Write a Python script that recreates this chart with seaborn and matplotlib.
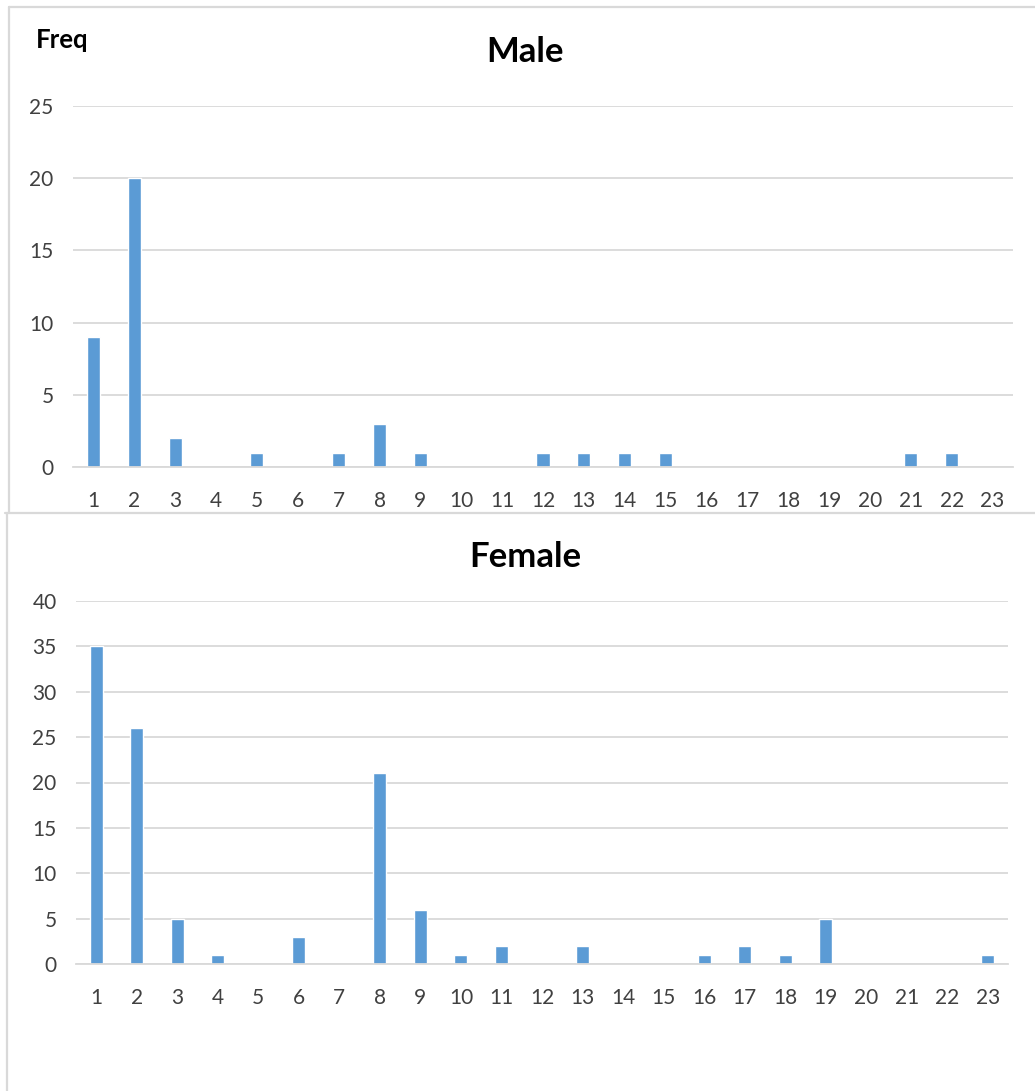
import matplotlib
matplotlib.use("Agg")
import matplotlib.pyplot as plt
from matplotlib.lines import Line2D
import seaborn as sns
import pandas as pd

categories = [str(i) for i in range(1, 24)]
male_freq = [9, 20, 2, 0, 1, 0, 1, 3, 1, 0, 0, 1, 1, 1, 1, 0, 0, 0, 0, 0, 1, 1, 0]
female_freq = [35, 26, 5, 1, 0, 3, 0, 21, 6, 1, 2, 0, 2, 0, 0, 1, 2, 1, 5, 0, 0, 0, 1]
male_ticks = [0, 5, 10, 15, 20, 25]
female_ticks = [0, 5, 10, 15, 20, 25, 30, 35, 40]

BAR_COLOR = "#5B9BD5"
GRID_COLOR = "#D9D9D9"
TEXT_COLOR = "#404040"

sns.set_theme(style="white")
plt.rcParams['font.family'] = ['Lato', 'DejaVu Sans']

W, H = 1035, 1091
fig = plt.figure(figsize=(W / 100, H / 100), dpi=100)


def px_axes(x0, x1, y_top, y_bot):
    return fig.add_axes([x0 / W, 1 - y_bot / H, (x1 - x0) / W, (y_bot - y_top) / H])


def draw_panel(ax, values, ticks):
    df = pd.DataFrame({'cat': categories, 'freq': values})
    sns.barplot(data=df, x='cat', y='freq', color=BAR_COLOR, width=0.32,
                saturation=1, ax=ax)
    ax.set_xlim(-0.5, len(categories) - 0.5)
    ax.set_ylim(0, ticks[-1])
    ax.set_yticks(ticks)
    ax.yaxis.grid(True, color=GRID_COLOR, linewidth=1.3)
    ax.set_axisbelow(True)
    for side in ['left', 'right', 'top']:
        ax.spines[side].set_visible(False)
    ax.spines['bottom'].set_color(GRID_COLOR)
    ax.spines['bottom'].set_linewidth(1.3)
    ax.tick_params(axis='x', length=0, pad=17, labelsize=15, labelcolor=TEXT_COLOR)
    ax.tick_params(axis='y', length=0, pad=14, labelsize=15, labelcolor=TEXT_COLOR)
    ax.set_xlabel('')
    ax.set_ylabel('')


ax1 = px_axes(73, 1013, 106, 467)
draw_panel(ax1, male_freq, male_ticks)
ax2 = px_axes(76, 1008, 601, 964)
draw_panel(ax2, female_freq, female_ticks)

fig.text(525 / W, 1 - 52 / H, 'Male', ha='center', va='center',
         fontsize=25, fontweight='bold', color='black')
fig.text(525 / W, 1 - 557 / H, 'Female', ha='center', va='center',
         fontsize=25, fontweight='bold', color='black')
fig.text(36 / W, 1 - 40 / H, 'Freq', ha='left', va='center',
         fontsize=18.5, fontweight='bold', color='black')

# panel borders
border = dict(color=GRID_COLOR, linewidth=1.6, transform=fig.transFigure)
fig.add_artist(Line2D([9 / W, 1], [1 - 7 / H, 1 - 7 / H], **border))
fig.add_artist(Line2D([9 / W, 9 / W], [1 - 7 / H, 1 - 513 / H], **border))
fig.add_artist(Line2D([5 / W, 1], [1 - 513 / H, 1 - 513 / H], **border))
fig.add_artist(Line2D([7 / W, 7 / W], [1 - 513 / H, 0], **border))

fig.savefig('out.png', dpi=100)
